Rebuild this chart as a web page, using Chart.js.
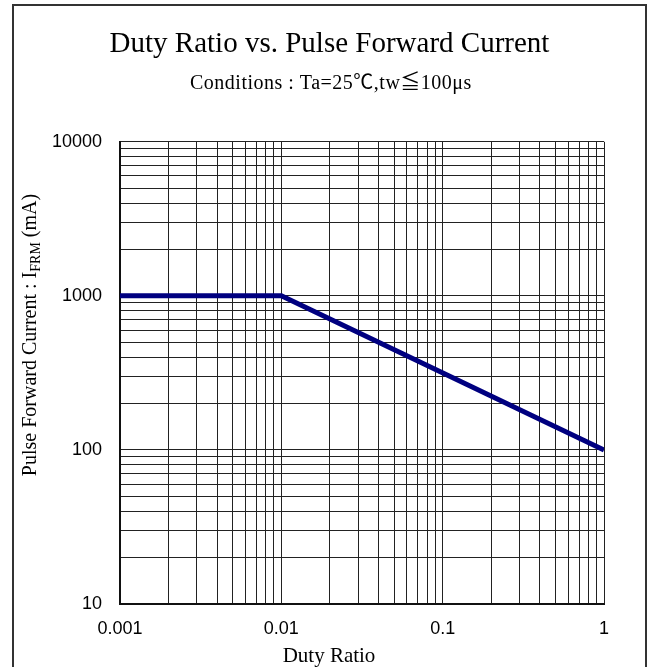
<!DOCTYPE html>
<html>
<head>
<meta charset="utf-8">
<script src="https://cdn.jsdelivr.net/npm/chart.js@4/dist/chart.umd.min.js"></script>
<style>
html,body{margin:0;padding:0;background:#fff;}
#wrap{position:relative;width:651px;height:667px;}
</style>
</head>
<body>
<div id="wrap"><canvas id="c" width="651" height="667"></canvas></div>
<script>
// ---- data ----
const dutyRatio = [0.001, 0.01, 1];
const pulseCurrent = [1000, 1000, 100];
const xTickValues = [0.001, 0.01, 0.1, 1];
const xTickLabels = ['0.001', '0.01', '0.1', '1'];
const yTickValues = [10, 100, 1000, 10000];
const yTickLabels = ['10', '100', '1000', '10000'];
const titleText = 'Duty Ratio vs. Pulse Forward Current';
const subtitleText = 'Conditions : Ta=25\u2103,tw\u2266100\u03bcs';
const xTitleText = 'Duty Ratio';
const yTitleMain = 'Pulse Forward Current : I';
const yTitleSub = 'FRM';
const yTitleEnd = ' (mA)';

const SERIF = "'Liberation Serif', 'Times New Roman', 'Noto Sans CJK JP', serif";
const SANS = "'Liberation Sans', Arial, sans-serif";

function logTicks(values) {
  const out = [];
  for (let i = 0; i < values.length - 1; i++) {
    for (let m = 1; m <= 9; m++) out.push({value: values[i] * m});
  }
  out.push({value: values[values.length - 1]});
  return out;
}
function labelFor(values, labels, v) {
  for (let i = 0; i < values.length; i++) {
    if (Math.abs(v - values[i]) / values[i] < 1e-9) return labels[i];
  }
  return '';
}

const framePlugin = {
  id: 'frame',
  afterDraw(chart) {
    const ctx = chart.ctx;
    ctx.save();
    ctx.strokeStyle = '#333';
    ctx.lineWidth = 2;
    ctx.strokeRect(13, 5, 633, 700);
    ctx.fillStyle = '#000';
    // subtitle (conditions)
    ctx.font = '20px ' + SERIF;
    ctx.textAlign = 'left';
    ctx.textBaseline = 'alphabetic';
    if ('letterSpacing' in ctx) ctx.letterSpacing = '0.5px';
    ctx.fillText(subtitleText, 190, 89);
    if ('letterSpacing' in ctx) ctx.letterSpacing = '0px';
    // x axis title
    ctx.font = '21px ' + SERIF;
    ctx.textAlign = 'center';
    ctx.fillText(xTitleText, 329, 662);
    // y axis title with subscript
    const cx = 31, cy = 335;
    const mainFont = '20px ' + SERIF;
    const subFont = '14px ' + SERIF;
    ctx.font = mainFont;
    const w1 = ctx.measureText(yTitleMain).width;
    const w3 = ctx.measureText(yTitleEnd).width;
    ctx.font = subFont;
    const w2 = ctx.measureText(yTitleSub).width;
    const total = w1 + w2 + w3;
    ctx.translate(cx, cy);
    ctx.rotate(-Math.PI / 2);
    ctx.textBaseline = 'middle';
    ctx.textAlign = 'left';
    let x = -total / 2;
    ctx.font = mainFont;
    ctx.fillText(yTitleMain, x, 0);
    x += w1;
    ctx.font = subFont;
    ctx.fillText(yTitleSub, x, 5);
    x += w2;
    ctx.font = mainFont;
    ctx.fillText(yTitleEnd, x, 0);
    ctx.restore();
  }
};

new Chart(document.getElementById('c'), {
  type: 'line',
  data: {
    datasets: [{
      data: dutyRatio.map((d, i) => ({x: d, y: pulseCurrent[i]})),
      borderColor: '#000080',
      backgroundColor: '#000080',
      borderWidth: 5,
      pointRadius: 0,
      tension: 0,
      fill: false
    }]
  },
  options: {
    responsive: false,
    animation: false,
    devicePixelRatio: 1,
    layout: {padding: {left: 8, right: 0, top: 0, bottom: 0}},
    plugins: {
      legend: {display: false},
      tooltip: {enabled: false},
      title: {
        display: true,
        text: titleText,
        color: '#000',
        font: {family: SERIF, size: 29, weight: 'normal'},
        padding: {top: 27, bottom: 80}
      },
      subtitle: {display: false}
    },
    scales: {
      x: {
        type: 'logarithmic',
        min: xTickValues[0],
        max: xTickValues[xTickValues.length - 1],
        afterBuildTicks(scale) { scale.ticks = logTicks(xTickValues); },
        afterFit(scale) { scale.height = 63; },
        grid: {color: '#222', lineWidth: 1, drawTicks: false},
        border: {display: true, color: '#111', width: 2},
        ticks: {
          autoSkip: false, maxRotation: 0, padding: 14, color: '#000',
          font: {family: SANS, size: 18},
          callback: (v) => labelFor(xTickValues, xTickLabels, v)
        }
      },
      y: {
        type: 'logarithmic',
        min: yTickValues[0],
        max: yTickValues[yTickValues.length - 1],
        afterBuildTicks(scale) { scale.ticks = logTicks(yTickValues); },
        afterFit(scale) { scale.width = 112; },
        grid: {color: '#222', lineWidth: 1, drawTicks: false},
        border: {display: true, color: '#111', width: 2},
        ticks: {
          autoSkip: false, padding: 18, color: '#000',
          font: {family: SANS, size: 18},
          callback: (v) => labelFor(yTickValues, yTickLabels, v)
        }
      },
      yRight: {
        type: 'linear',
        position: 'right',
        display: true,
        afterFit(scale) { scale.width = 47; },
        grid: {display: false, drawOnChartArea: false},
        border: {display: false},
        ticks: {display: false}
      }
    }
  },
  plugins: [framePlugin]
});
</script>
</body>
</html>
